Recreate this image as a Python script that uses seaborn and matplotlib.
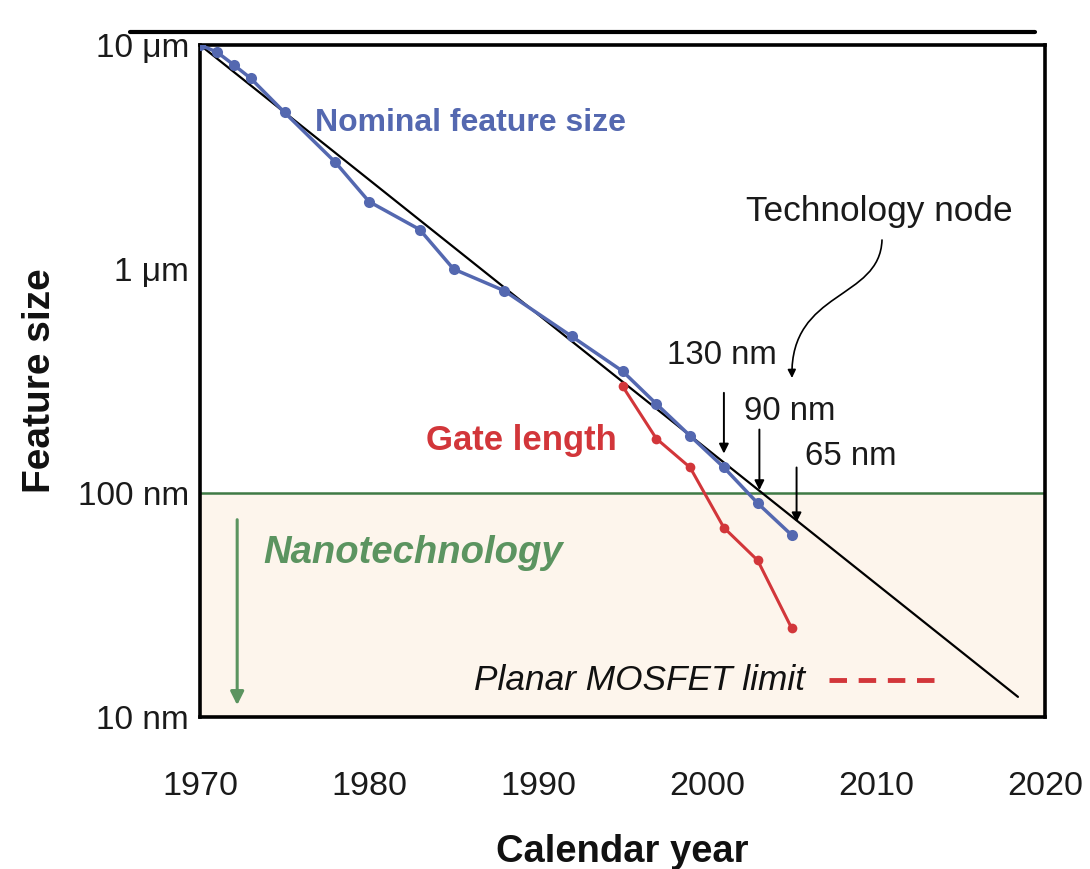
import matplotlib
matplotlib.use("Agg")
import matplotlib.pyplot as plt
import seaborn as sns
from matplotlib import font_manager
from matplotlib.lines import Line2D
from matplotlib.path import Path
from matplotlib.patches import FancyArrowPatch

# Nominal feature size (technology node), nm
nominal_years = [1970, 1971, 1972, 1973, 1975, 1978, 1980, 1983, 1985, 1988,
                 1992, 1995, 1997, 1999, 2001, 2003, 2005]
nominal_nm = [10000, 9300, 8150, 7100, 5000, 3000, 2000, 1500, 1000, 800,
              500, 350, 250, 180, 130, 90, 65]

# Physical gate length, nm
gate_years = [1995, 1997, 1999, 2001, 2003, 2005]
gate_nm = [300, 175, 130, 70, 50, 25]

# Trend line
trend_years = [1970, 2018.4]
trend_nm = [10000, 12.3]

ytick_vals = [10, 100, 1000, 10000]
ytick_labels = ["10 nm", "100 nm", "1 μm", "10 μm"]
xtick_vals = [1970, 1980, 1990, 2000, 2010, 2020]

sns.set_style("white")
plt.rcParams['font.family'] = ['Liberation Sans', 'DejaVu Sans']

# some labels in the original use a condensed face
installed = {f.name for f in font_manager.fontManager.ttflist}
if "Liberation Sans Narrow" in installed:
    narrow = ["Liberation Sans Narrow", "Liberation Sans", "DejaVu Sans"]
    k = 1.0
else:
    narrow = ["Liberation Sans", "DejaVu Sans"]
    k = 0.82

blue = "#5468b0"
red = "#d2363a"
green = "#5b9460"
ink = "#1a1a1a"

fig = plt.figure(figsize=(10.9, 8.69), dpi=100)
ax = fig.add_axes([200 / 1090, 1 - 717 / 869, 845 / 1090, 672 / 869])

ax.axhspan(10, 100, color="#fdf5ec", zorder=0)
ax.axhline(100, color="#3f7a45", lw=1.8, zorder=1)

ax.plot(trend_years, trend_nm, color="black", lw=1.6, zorder=2)
sns.lineplot(x=nominal_years, y=nominal_nm, color=blue, lw=2.5, marker="o",
             markersize=8, markeredgewidth=0, ax=ax, zorder=3)
sns.lineplot(x=gate_years, y=gate_nm, color=red, lw=2.2, marker="o",
             markersize=7, markeredgewidth=0, ax=ax, zorder=3)

ax.set_yscale("log")
ax.set_xlim(1970, 2020)
ax.set_ylim(10, 10000)
ax.set_yticks(ytick_vals)
ax.set_yticklabels(ytick_labels)
ax.set_xticks(xtick_vals)
ax.set_xticklabels([str(v) for v in xtick_vals], family=narrow,
                   fontsize=30 * k)
ax.minorticks_off()
ax.tick_params(axis="both", direction="in", length=8, color="#e2e2e2",
               labelcolor=ink)
ax.tick_params(axis="y", labelsize=24, pad=8)
ax.tick_params(axis="x", pad=39)
for s in ax.spines.values():
    s.set_color("black")
    s.set_linewidth(2.6)

ax.set_xlabel("Calendar year", fontsize=33.5 * k, fontweight="bold",
              color="#111111", family=narrow, va="top")
ax.xaxis.set_label_coords(0.5, (717 - 834) / 672)
ax.set_ylabel("Feature size", fontsize=28, fontweight="bold", labelpad=14,
              color="#111111")

# text labels
ax.text(1986.0, 4500, "Nominal feature size", color=blue, fontsize=23,
        fontweight="bold", ha="center", va="center")
ax.text(1989.0, 172, "Gate length", color=red, fontsize=25,
        fontweight="bold", ha="center", va="center")
ax.text(1982.6, 54, "Nanotechnology", color=green, fontsize=27.5,
        fontweight="bold", style="italic", ha="center", va="center")
ax.text(2005.8, 14.6, "Planar MOSFET limit", color="#111111",
        fontsize=31 * k, style="italic", ha="right", va="center",
        family=narrow)
ax.plot([2007.2, 2013.8], [14.6, 14.6], color=red, lw=3.5, ls=(0, (3.6, 2.4)))
ax.text(2010.2, 1800, "Technology node", fontsize=31 * k, ha="center",
        va="center", color=ink, family=narrow)

ax.text(2000.9, 413, "130 nm", fontsize=29 * k, ha="center", va="center",
        color=ink, family=narrow)
ax.text(2004.9, 230, "90 nm", fontsize=29 * k, ha="center", va="center",
        color=ink, family=narrow)
ax.text(2008.5, 145, "65 nm", fontsize=29 * k, ha="center", va="center",
        color=ink, family=narrow)

arrow = dict(arrowstyle="-|>", color="black", lw=1.4, mutation_scale=14,
             shrinkA=0, shrinkB=0)
ax.annotate("", xy=(2001.0, 150), xytext=(2001.0, 280), arrowprops=arrow)
ax.annotate("", xy=(2003.1, 103), xytext=(2003.1, 192), arrowprops=arrow)
ax.annotate("", xy=(2005.3, 74), xytext=(2005.3, 130), arrowprops=arrow)

ax.annotate("", xy=(1972.2, 11.3), xytext=(1972.2, 76),
            arrowprops=dict(arrowstyle="-|>", color=green, lw=2.2,
                            mutation_scale=20, shrinkA=0, shrinkB=0))

# curly arrow from "Technology node" down to the 130 nm label
def afr(px, py):
    return ((px - 200) / 845, (717 - py) / 672)

curve = Path([afr(882, 240), afr(880, 300), afr(790, 290), afr(792, 378)],
             [Path.MOVETO, Path.CURVE4, Path.CURVE4, Path.CURVE4])
ax.add_patch(FancyArrowPatch(path=curve, arrowstyle="-|>", color="black",
                             lw=1.2, mutation_scale=12, transform=ax.transAxes))

fig.add_artist(Line2D([130 / 1090, 1035 / 1090], [1 - 32 / 869] * 2,
                      color="black", lw=3))

fig.savefig("out.png", dpi=100)
